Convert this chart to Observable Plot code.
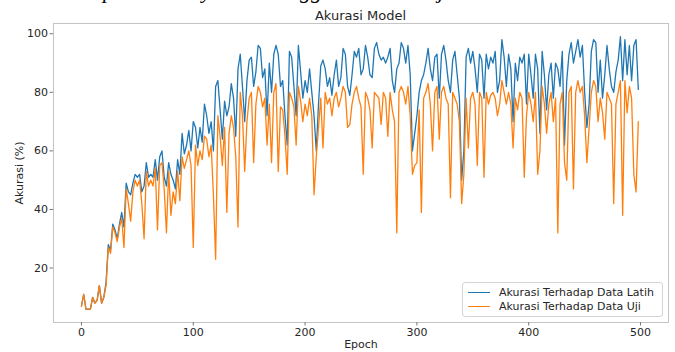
<!DOCTYPE html>
<html><head><meta charset="utf-8">
<script src="https://cdn.jsdelivr.net/npm/d3@7"></script>
<script src="https://cdn.jsdelivr.net/npm/@observablehq/plot@0.6"></script>
<style>
html,body{margin:0;padding:0;background:#fff;}
#wrap{position:relative;width:675px;height:352px;overflow:hidden;font-family:"DejaVu Sans",sans-serif;}
#wrap svg{position:absolute;left:0;top:0;}
.cap{position:absolute;font:italic 22px "Liberation Serif",serif;line-height:22px;top:-20px;white-space:nowrap;color:#000;}
#title{position:absolute;left:53px;width:615px;text-align:center;top:8px;font-size:13px;line-height:15px;color:#262626;}
#legend{position:absolute;left:462px;top:282px;width:201px;height:35px;border:1px solid #d4d4d4;border-radius:3px;background:rgba(255,255,255,0.85);box-sizing:border-box;}
.li{position:absolute;left:0;width:200px;height:13px;}
.li .sw{position:absolute;left:5px;top:6px;width:22px;height:0;border-top:1.4px solid;}
.li .tx{position:absolute;left:36px;top:0;font-size:11px;line-height:13px;color:#262626;white-space:nowrap;}
</style>
</head><body>
<div id="wrap"></div>
<script>
// Caption fragments of the paper text above the figure (only the bottom is visible)
const captionParts = [
  {text: "Hasil akurasi pada", anchor: "p", x: 103},
  {text: "layer", anchor: "y", x: 202},
  {text: "menggunakan", anchor: "gg", x: 300},
  {text: "data uji", anchor: "j", x: 438}
];
const titleText = "Akurasi Model";
const xLabel = "Epoch";
const yLabel = "Akurasi (%)";
const seriesNames = ["Akurasi Terhadap Data Latih", "Akurasi Terhadap Data Uji"];
const xTicks = [0, 100, 200, 300, 400, 500];
const yTicks = [20, 40, 60, 80, 100];
// epochs sampled every 2
const epochs = d3.range(0, 500, 2);
const latih = [
  7, 11, 6, 6, 6, 10, 8, 9, 14, 8,
  10, 15, 28, 26, 35, 33, 30, 35, 39, 34,
  49, 46, 45, 49, 52, 51, 52, 46, 48, 56,
  51, 52, 51, 57, 50, 58, 60, 51, 48, 56,
  52, 50, 47, 57, 52, 66, 59, 62, 67, 60,
  70, 68, 61, 68, 63, 76, 72, 66, 70, 60,
  82, 84, 74, 64, 77, 72, 75, 83, 78, 65,
  88, 93, 82, 70, 84, 91, 92, 82, 87, 96,
  95, 85, 88, 72, 90, 80, 93, 96, 93, 82,
  84, 72, 62, 94, 92, 82, 72, 96, 87, 78,
  84, 80, 88, 80, 72, 60, 76, 89, 91, 88,
  82, 85, 79, 86, 91, 82, 85, 95, 93, 82,
  79, 86, 94, 92, 95, 86, 88, 96, 92, 86,
  85, 95, 97, 93, 91, 92, 90, 92, 95, 84,
  80, 88, 90, 97, 95, 90, 96, 86, 60, 66,
  72, 80, 84, 86, 90, 95, 88, 84, 92, 93,
  78, 93, 96, 91, 84, 80, 91, 94, 86, 78,
  50, 60, 92, 95, 90, 94, 88, 80, 93, 91,
  78, 93, 88, 92, 90, 94, 80, 84, 98, 92,
  82, 93, 88, 70, 90, 84, 92, 90, 93, 76,
  93, 86, 78, 93, 88, 66, 94, 86, 74, 86,
  90, 78, 90, 88, 82, 94, 62, 84, 93, 97,
  90, 94, 98, 92, 96, 80, 68, 76, 94, 98,
  97, 80, 91, 78, 86, 96, 88, 82, 80, 87,
  91, 99, 84, 98, 86, 96, 84, 96, 98, 81
];
const uji = [
  7, 11, 6, 6, 6, 10, 8, 9, 14, 8,
  10, 14, 27, 25, 34, 32, 29, 34, 37, 27,
  47, 42, 36, 46, 50, 48, 50, 42, 30, 53,
  48, 50, 48, 54, 33, 55, 56, 47, 32, 53,
  38, 46, 42, 53, 43, 58, 54, 57, 60, 55,
  27, 62, 55, 60, 57, 65, 64, 58, 62, 45,
  23, 72, 65, 55, 68, 39, 66, 72, 68, 58,
  34, 80, 72, 53, 70, 78, 80, 56, 76, 82,
  80, 75, 78, 62, 76, 56, 80, 83, 53, 75,
  74, 65, 52, 80, 78, 75, 62, 82, 77, 70,
  76, 72, 78, 72, 45, 58, 68, 78, 61, 80,
  76, 78, 72, 78, 80, 75, 78, 82, 80, 68,
  69, 76, 80, 82, 78, 75, 52, 80, 78, 74,
  61, 80, 79, 78, 69, 80, 78, 65, 80, 74,
  70, 32, 80, 82, 80, 76, 82, 72, 52, 55,
  56, 74, 39, 78, 80, 83, 76, 60, 80, 82,
  64, 80, 82, 78, 76, 44, 80, 78, 76, 70,
  42, 52, 78, 61, 78, 80, 76, 55, 80, 78,
  51, 80, 76, 79, 80, 78, 72, 76, 84, 80,
  76, 80, 76, 61, 78, 74, 80, 78, 51, 72,
  80, 76, 70, 80, 52, 60, 82, 76, 66, 76,
  80, 70, 78, 32, 76, 80, 56, 50, 80, 82,
  47, 80, 84, 80, 82, 72, 56, 68, 80, 84,
  82, 70, 78, 73, 64, 80, 78, 76, 42, 76,
  80, 84, 38, 84, 73, 82, 78, 52, 46, 70
];
const colors = ["#1f77b4", "#ff7f0e"];

const wrap = document.getElementById("wrap");

const chart = Plot.plot({
  width: 675, height: 352,
  marginLeft: 53, marginRight: 7, marginTop: 23, marginBottom: 30,
  style: {fontFamily: "DejaVu Sans", fontSize: "11px", color: "#262626", background: "transparent"},
  x: {domain: [-25, 525]},
  y: {domain: [1.4, 103.5]},
  marks: [
    Plot.frame({stroke: "#c4c4c4"}),
    Plot.axisX({ticks: xTicks, tickSize: 3.5, tickPadding: 2, stroke: "#777", fill: "#262626",
      label: xLabel, labelAnchor: "center", labelArrow: "none", labelOffset: 25}),
    Plot.axisY({ticks: yTicks, tickSize: 3.5, tickPadding: 2, stroke: "#777", fill: "#262626",
      label: yLabel, labelAnchor: "center", labelArrow: "none", labelOffset: 38}),
    Plot.line(latih, {x: epochs, y: latih, stroke: colors[0], strokeWidth: 1.3}),
    Plot.line(uji, {x: epochs, y: uji, stroke: colors[1], strokeWidth: 1.3})
  ]
});
wrap.appendChild(chart);

// caption fragments
const cv = document.createElement("canvas").getContext("2d");
cv.font = 'italic 22px "Liberation Serif"';
for (const p of captionParts) {
  const idx = p.text.indexOf(p.anchor);
  const off = cv.measureText(p.text.slice(0, idx)).width;
  const s = document.createElement("div");
  s.className = "cap";
  s.textContent = p.text;
  s.style.left = (p.x - off) + "px";
  wrap.appendChild(s);
}

const t = document.createElement("div");
t.id = "title"; t.textContent = titleText;
wrap.appendChild(t);

const lg = document.createElement("div");
lg.id = "legend";
seriesNames.forEach((n, i) => {
  const r = document.createElement("div");
  r.className = "li";
  r.style.top = (3 + i * 14) + "px";
  r.innerHTML = `<div class="sw" style="border-color:${colors[i]}"></div><div class="tx"></div>`;
  r.querySelector(".tx").textContent = n;
  lg.appendChild(r);
});
wrap.appendChild(lg);
</script>
</body></html>
